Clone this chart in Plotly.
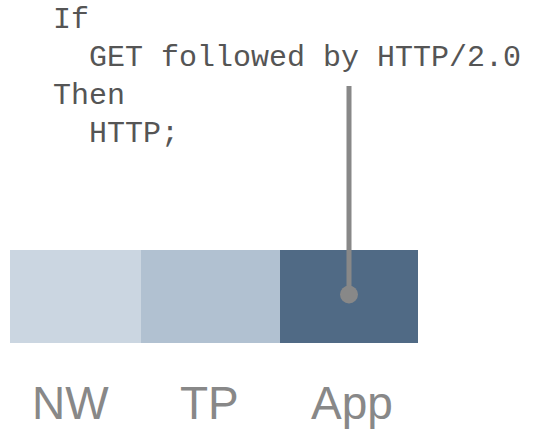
import plotly.graph_objects as go

# Data
layers = ["NW", "TP", "App"]
layer_sizes = [131, 139, 138]
layer_colors = ["#cbd6e1", "#b1c1d1", "#506a85"]
rule_lines = ["If", "  GET followed by HTTP/2.0", "Then", "  HTTP;"]
pointer_layer = "App"

W, H = 558, 430
X0 = 10          # left pixel of the bar
BAR_CENTER = 296.5
BAR_H = 93

fig = go.Figure()

for name, size, col in zip(layers, layer_sizes, layer_colors):
    fig.add_trace(go.Bar(
        y=[0], x=[size], name=name, orientation="h", width=BAR_H,
        marker=dict(color=col, line=dict(width=0)),
        hoverinfo="skip", showlegend=False,
    ))

# cumulative positions
starts = []
acc = 0
for s in layer_sizes:
    starts.append(acc)
    acc += s
centers = [st + s / 2 for st, s in zip(starts, layer_sizes)]

# pointer into the App layer
pi = layers.index(pointer_layer)
px = starts[pi] + 0.5 * layer_sizes[pi]
fig.add_trace(go.Scatter(
    x=[px, px], y=[BAR_CENTER - 86, 2], mode="lines",
    line=dict(color="#888888", width=5), hoverinfo="skip", showlegend=False,
))
fig.add_trace(go.Scatter(
    x=[px], y=[2], mode="markers",
    marker=dict(color="#888888", size=18, line=dict(width=0)),
    hoverinfo="skip", showlegend=False,
))

# layer labels
label_offsets = [-5.5, -1.5, 2.5]
for name, c, off in zip(layers, centers, label_offsets):
    fig.add_annotation(
        x=c + off, y=BAR_CENTER - 420, text=name, showarrow=False,
        xanchor="center", yanchor="bottom", yshift=-11,
        font=dict(family="Liberation Sans, Arial", size=46, color="#888888"),
    )

# rule text
baselines = [26, 64, 102, 140]
for i, (line, b) in enumerate(zip(rule_lines, baselines)):
    fig.add_annotation(
        x=51 - X0, y=BAR_CENTER - b, text=line.replace(" ", "&nbsp;"),
        showarrow=False, xanchor="left", yanchor="bottom", yshift=-13,
        font=dict(family="Liberation Mono, Courier New, monospace", size=30, color="#555555"),
    )

fig.update_layout(
    width=W, height=H, margin=dict(l=0, r=0, t=0, b=0),
    paper_bgcolor="white", plot_bgcolor="white",
    barmode="stack", bargap=0,
    xaxis=dict(range=[-X0, W - X0], visible=False, fixedrange=True),
    yaxis=dict(range=[BAR_CENTER - H, BAR_CENTER], visible=False, fixedrange=True),
)

fig.write_html(
    "out.html",
    config={"displayModeBar": False},
    post_script="document.body.style.margin='0';document.body.style.overflow='hidden';",
)
